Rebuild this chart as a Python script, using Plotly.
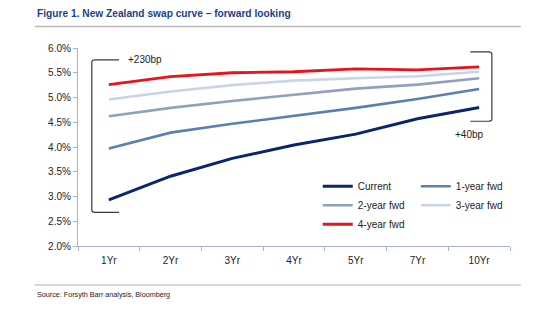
import plotly.graph_objects as go

tenors = ["1Yr", "2Yr", "3Yr", "4Yr", "5Yr", "7Yr", "10Yr"]

current = [2.93, 3.41, 3.77, 4.04, 4.26, 4.57, 4.80]
fwd_1y = [3.97, 4.29, 4.47, 4.63, 4.79, 4.97, 5.17]
fwd_2y = [4.62, 4.79, 4.93, 5.06, 5.18, 5.26, 5.39]
fwd_3y = [4.96, 5.12, 5.25, 5.34, 5.39, 5.43, 5.52]
fwd_4y = [5.26, 5.42, 5.50, 5.52, 5.58, 5.56, 5.62]

series_names = ["Current", "1-year fwd", "2-year fwd", "3-year fwd", "4-year fwd"]
series_colors = ["#0b2470", "#5c7fb3", "#8fa2bd", "#c9d5e3", "#e8141c"]
series_widths = [3, 2.6, 2.6, 2.6, 2.8]
# two-column legend: left column / right column
series_legend = ["legend", "legend2", "legend", "legend2", "legend"]

y_ticks = [2.0, 2.5, 3.0, 3.5, 4.0, 4.5, 5.0, 5.5, 6.0]

FONT = "Liberation Sans, Arial, sans-serif"
AXIS_COLOR = "#a8b4cc"

fig = go.Figure()
for name, vals, col, w, lg in zip(series_names, [current, fwd_1y, fwd_2y, fwd_3y, fwd_4y],
                                  series_colors, series_widths, series_legend):
    fig.add_trace(go.Scatter(x=tenors, y=vals, mode="lines", name=name, legend=lg,
                             line=dict(color=col, width=w), hoverinfo="skip"))

# spread brackets: short end (+230bp) and long end (+40bp)
bracket_color = "#3a3a3a"
fig.add_shape(type="path", xref="paper", yref="y",
              path="M 0.095,5.76 L 0.04,5.76 Q 0.032,5.76 0.032,5.72 "
                   "L 0.032,2.72 Q 0.032,2.68 0.04,2.68 L 0.095,2.68",
              line=dict(color=bracket_color, width=1.2))
fig.add_shape(type="path", xref="paper", yref="y",
              path="M 0.908,5.92 L 0.950,5.92 Q 0.958,5.92 0.958,5.88 "
                   "L 0.958,4.56 Q 0.958,4.52 0.950,4.52 L 0.908,4.52",
              line=dict(color=bracket_color, width=1.2))
fig.add_annotation(text="+230bp", xref="paper", yref="y", x=0.112, y=5.76,
                   xanchor="left", yanchor="middle", showarrow=False,
                   font=dict(family=FONT, size=10, color="#222"))
fig.add_annotation(text="+40bp", xref="paper", yref="y", x=0.868, y=4.25,
                   xanchor="left", yanchor="middle", showarrow=False,
                   font=dict(family=FONT, size=10, color="#222"))

# title, rules and source note
fig.add_annotation(text="<b>Figure 1. New Zealand swap curve – forward looking</b>",
                   xref="paper", yref="paper", x=-0.100, y=1.172,
                   xanchor="left", yanchor="middle", showarrow=False,
                   font=dict(family=FONT, size=10.2, color="#1d3f86"))
fig.add_shape(type="line", xref="paper", yref="paper", x0=-0.100, x1=1.025,
              y0=1.108, y1=1.108, line=dict(color="#b8b8b8", width=1.5))
fig.add_shape(type="line", xref="paper", yref="paper", x0=-0.100, x1=1.025,
              y0=-0.197, y1=-0.197, line=dict(color="#c8c8c8", width=1.5))
fig.add_annotation(text="Source: Forsyth Barr analysis, Bloomberg",
                   xref="paper", yref="paper", x=-0.100, y=-0.243,
                   xanchor="left", yanchor="middle", showarrow=False,
                   font=dict(family=FONT, size=7.2, color="#222"))

legend_style = dict(orientation="v", yanchor="top", xanchor="left",
                    itemwidth=30, tracegroupgap=0, borderwidth=0,
                    font=dict(family=FONT, size=10, color="#222"),
                    bgcolor="rgba(0,0,0,0)")

fig.update_layout(
    width=550, height=328,
    margin=dict(l=78, r=40, t=48, b=82),
    paper_bgcolor="white", plot_bgcolor="white",
    font=dict(family=FONT, size=10, color="#222"),
    showlegend=True,
    legend=dict(x=0.555, y=0.375, **legend_style),
    legend2=dict(x=0.782, y=0.375, **legend_style),
)
fig.update_xaxes(type="category", range=[-0.5, 6.5], showgrid=False, showline=True,
                 linecolor=AXIS_COLOR, linewidth=1.2, ticks="outside",
                 tickson="boundaries", ticklen=4, tickcolor=AXIS_COLOR,
                 ticklabelstandoff=5,
                 tickfont=dict(family=FONT, size=10), zeroline=False)
fig.update_yaxes(range=[2.0, 6.0], tickvals=y_ticks,
                 ticktext=[f"{v:.1f}%" for v in y_ticks],
                 showgrid=False, showline=True, linecolor=AXIS_COLOR, linewidth=1.2,
                 ticks="outside", ticklen=4, tickcolor=AXIS_COLOR,
                 tickfont=dict(family=FONT, size=10), zeroline=False)

fig.write_html("out.html")
